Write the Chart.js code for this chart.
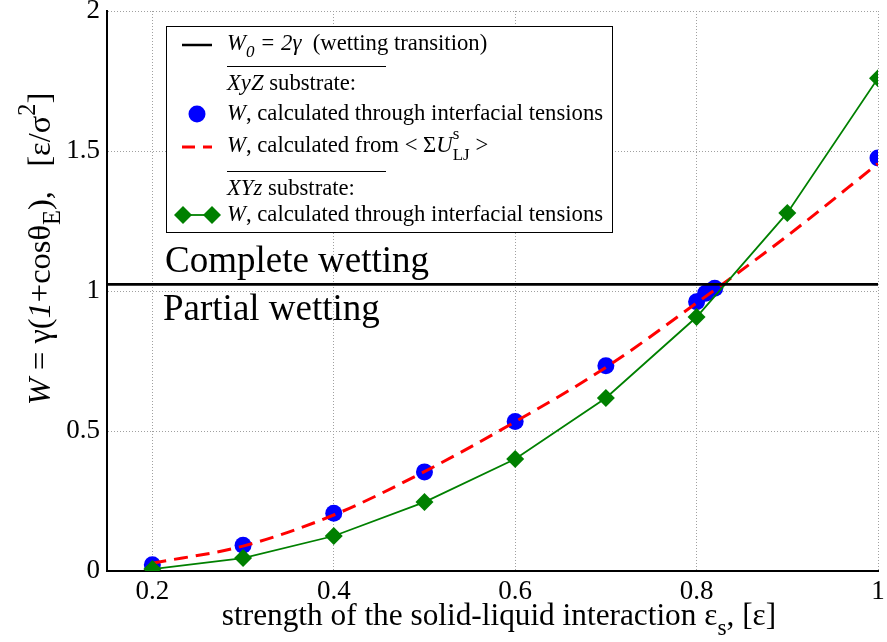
<!DOCTYPE html>
<html><head><meta charset="utf-8">
<script src="https://cdn.jsdelivr.net/npm/chart.js@4/dist/chart.umd.min.js"></script>
<style>html,body{margin:0;padding:0;background:#fff;}#wrap{width:887px;height:642px;}</style>
</head><body><div id="wrap"><canvas id="c" width="887" height="642"></canvas></div>
<script>
// ---- data ----
const epsXyZTension = [0.2, 0.3, 0.4, 0.5, 0.6, 0.7, 0.8, 0.81, 0.82, 1.0];
const wXyZTension   = [0.022, 0.092, 0.206, 0.354, 0.534, 0.733, 0.962, 0.992, 1.010, 1.475];
const epsXyZEnergy  = [0.2, 0.3, 0.4, 0.5, 0.6, 0.7, 0.8, 0.9, 1.0];
const wXyZEnergy    = [0.028, 0.089, 0.200, 0.355, 0.533, 0.727, 0.957, 1.197, 1.455];
const epsXYzTension = [0.2, 0.3, 0.4, 0.5, 0.6, 0.7, 0.8, 0.9, 1.0];
const wXYzTension   = [0.007, 0.046, 0.125, 0.246, 0.400, 0.618, 0.907, 1.279, 1.760];
const wettingTransitionW0 = 1.024;
const xRange = [0.15, 1.0];
const yRange = [0, 2];
const xTickValues = [0.2, 0.4, 0.6, 0.8, 1.0];
const xTickLabels = ['0.2', '0.4', '0.6', '0.8', '1'];
const yTickValues = [0, 0.5, 1, 1.5, 2];
const yTickLabels = ['0', '0.5', '1', '1.5', '2'];

const FONT = '"Liberation Serif", "Times New Roman", serif';
const toPts = (xs, ys) => xs.map((x, i) => ({x: x, y: ys[i]}));

function drawRich(ctx, x, y, segs, size, align) {
  let cursor = 0; const items = [];
  for (const s of segs) {
    const sz = size * (s.scale || 1);
    const f = (s.italic ? 'italic ' : '') + sz + 'px ' + FONT;
    ctx.font = f;
    const w = ctx.measureText(s.t).width;
    items.push({t: s.t, f: f, x: cursor, dy: s.dy || 0});
    if (!s.noAdvance) cursor += w;
  }
  let x0 = x;
  if (align === 'center') x0 = x - cursor / 2;
  else if (align === 'right') x0 = x - cursor;
  ctx.textBaseline = 'alphabetic';
  ctx.textAlign = 'left';
  for (const it of items) {
    ctx.font = it.f;
    ctx.fillText(it.t, x0 + it.x, y + it.dy);
  }
}

const annotations = {
  id: 'annotations',
  afterDatasetsDraw(chart) {
    const ctx = chart.ctx;
    ctx.save();
    ctx.fillStyle = '#000';
    // region labels
    ctx.font = '37px ' + FONT;
    ctx.textBaseline = 'alphabetic';
    ctx.fillText('Complete wetting', 165, 272);
    ctx.fillText('Partial wetting', 163, 320);

    // legend box
    ctx.fillStyle = '#fff';
    ctx.fillRect(166, 26, 446, 206);
    ctx.strokeStyle = '#000';
    ctx.lineWidth = 1;
    ctx.strokeRect(166.5, 26.5, 446, 206);
    ctx.fillStyle = '#000';
    const LS = 22.7, tx = 227;
    // row 1 : W0 line
    ctx.lineWidth = 2.5; ctx.beginPath(); ctx.moveTo(182, 45); ctx.lineTo(212, 45); ctx.stroke();
    drawRich(ctx, tx, 50, [
      {t: 'W', italic: true}, {t: '0', italic: true, scale: 0.75, dy: 7},
      {t: ' = 2γ', italic: true}, {t: '  (wetting transition)'}], LS);
    // separator
    ctx.lineWidth = 1;
    ctx.beginPath(); ctx.moveTo(227, 66.5); ctx.lineTo(386, 66.5); ctx.stroke();
    drawRich(ctx, tx, 90, [{t: 'XyZ', italic: true}, {t: ' substrate:'}], LS);
    // blue circle
    ctx.fillStyle = '#0000ff';
    ctx.beginPath(); ctx.arc(197, 114, 8.5, 0, Math.PI * 2); ctx.fill();
    ctx.fillStyle = '#000';
    drawRich(ctx, tx, 120, [{t: 'W', italic: true}, {t: ', calculated through interfacial tensions'}], LS);
    // red dashed
    ctx.strokeStyle = '#ff0000'; ctx.lineWidth = 3;
    ctx.beginPath(); ctx.moveTo(182, 147); ctx.lineTo(195, 147); ctx.moveTo(203, 147); ctx.lineTo(212, 147); ctx.stroke();
    drawRich(ctx, tx, 152, [
      {t: 'W', italic: true}, {t: ', calculated from < Σ'}, {t: 'U', italic: true},
      {t: 's', scale: 0.75, dy: -13, noAdvance: true}, {t: 'LJ', scale: 0.75, dy: 8}, {t: ' >'}], LS);
    ctx.strokeStyle = '#000'; ctx.lineWidth = 1;
    ctx.beginPath(); ctx.moveTo(227, 171.5); ctx.lineTo(386, 171.5); ctx.stroke();
    drawRich(ctx, tx, 195, [{t: 'XYz', italic: true}, {t: ' substrate:'}], LS);
    // green sample
    ctx.strokeStyle = '#008000'; ctx.fillStyle = '#008000'; ctx.lineWidth = 1.8;
    ctx.beginPath(); ctx.moveTo(183, 215); ctx.lineTo(212, 215); ctx.stroke();
    for (const cx of [183, 212]) {
      ctx.beginPath(); ctx.moveTo(cx - 9, 215); ctx.lineTo(cx, 206); ctx.lineTo(cx + 9, 215); ctx.lineTo(cx, 224); ctx.closePath(); ctx.fill();
    }
    ctx.fillStyle = '#000';
    drawRich(ctx, tx, 221, [{t: 'W', italic: true}, {t: ', calculated through interfacial tensions'}], LS);

    // x axis title
    drawRich(ctx, 499, 625, [
      {t: 'strength of the solid-liquid interaction ε'}, {t: 's', scale: 0.75, dy: 10}, {t: ', [ε]'}], 31.3, 'center');
    // y axis title (rotated)
    ctx.save();
    ctx.translate(50, 249);
    ctx.rotate(-Math.PI / 2);
    drawRich(ctx, 0, 0, [
      {t: 'W', italic: true}, {t: ' = γ('}, {t: '1', italic: true}, {t: '+cosθ'},
      {t: 'E', scale: 0.75, dy: 10}, {t: '),   [ε/σ'}, {t: '2', scale: 0.75, dy: -15}, {t: ']'}], 32.5, 'center');
    ctx.restore();
    ctx.restore();
  }
};

new Chart(document.getElementById('c'), {
  type: 'scatter',
  data: {
    datasets: [
      {label: 'W0 = 2γ', data: [{x: xRange[0], y: wettingTransitionW0}, {x: xRange[1], y: wettingTransitionW0}],
       showLine: true, borderColor: '#000', borderWidth: 2.8, pointRadius: 0, order: 0},
      {label: 'XyZ from energy', data: toPts(epsXyZEnergy, wXyZEnergy), showLine: true,
       borderColor: '#ff0000', borderWidth: 3, borderDash: [14, 8], cubicInterpolationMode: 'monotone',
       pointRadius: 0, order: 2},
      {label: 'XYz tensions', data: toPts(epsXYzTension, wXYzTension), showLine: true,
       borderColor: '#008000', borderWidth: 1.8, pointStyle: 'rectRot', pointRadius: 9,
       pointBackgroundColor: '#008000', pointBorderWidth: 0, order: 1},
      {label: 'XyZ tensions', data: toPts(epsXyZTension, wXyZTension), showLine: false,
       pointStyle: 'circle', pointRadius: 8.5, pointBackgroundColor: '#0000ff', pointBorderWidth: 0,
       borderColor: '#0000ff', order: 3}
    ]
  },
  options: {
    responsive: false, animation: false, devicePixelRatio: 1,
    layout: {padding: {top: 11, right: 3, left: 0, bottom: 0}},
    plugins: {legend: {display: false}, tooltip: {enabled: false}},
    scales: {
      x: {
        type: 'linear', min: xRange[0], max: xRange[1],
        afterBuildTicks: s => { s.ticks = xTickValues.map(v => ({value: v})); },
        afterFit: s => { s.height = 71; s.paddingLeft = 0; s.paddingRight = 0; },
        ticks: {callback: (v, i) => xTickLabels[i], font: {family: FONT, size: 27}, color: '#000',
                padding: 5, maxRotation: 0, autoSkip: false},
        grid: {color: '#a0a0a0', lineWidth: 1, drawTicks: false},
        border: {display: true, color: '#000', width: 2, dash: [1, 2]}
      },
      y: {
        type: 'linear', min: yRange[0], max: yRange[1],
        afterBuildTicks: s => { s.ticks = yTickValues.map(v => ({value: v})); },
        afterFit: s => { s.width = 107; s.paddingTop = 0; s.paddingBottom = 0; },
        ticks: {callback: (v, i) => yTickLabels[i], font: {family: FONT, size: 27}, color: '#000',
                padding: 7, autoSkip: false},
        grid: {color: '#a0a0a0', lineWidth: 1, drawTicks: false},
        border: {display: true, color: '#000', width: 2, dash: [1, 2]}
      }
    }
  },
  plugins: [annotations]
});
</script></body></html>
